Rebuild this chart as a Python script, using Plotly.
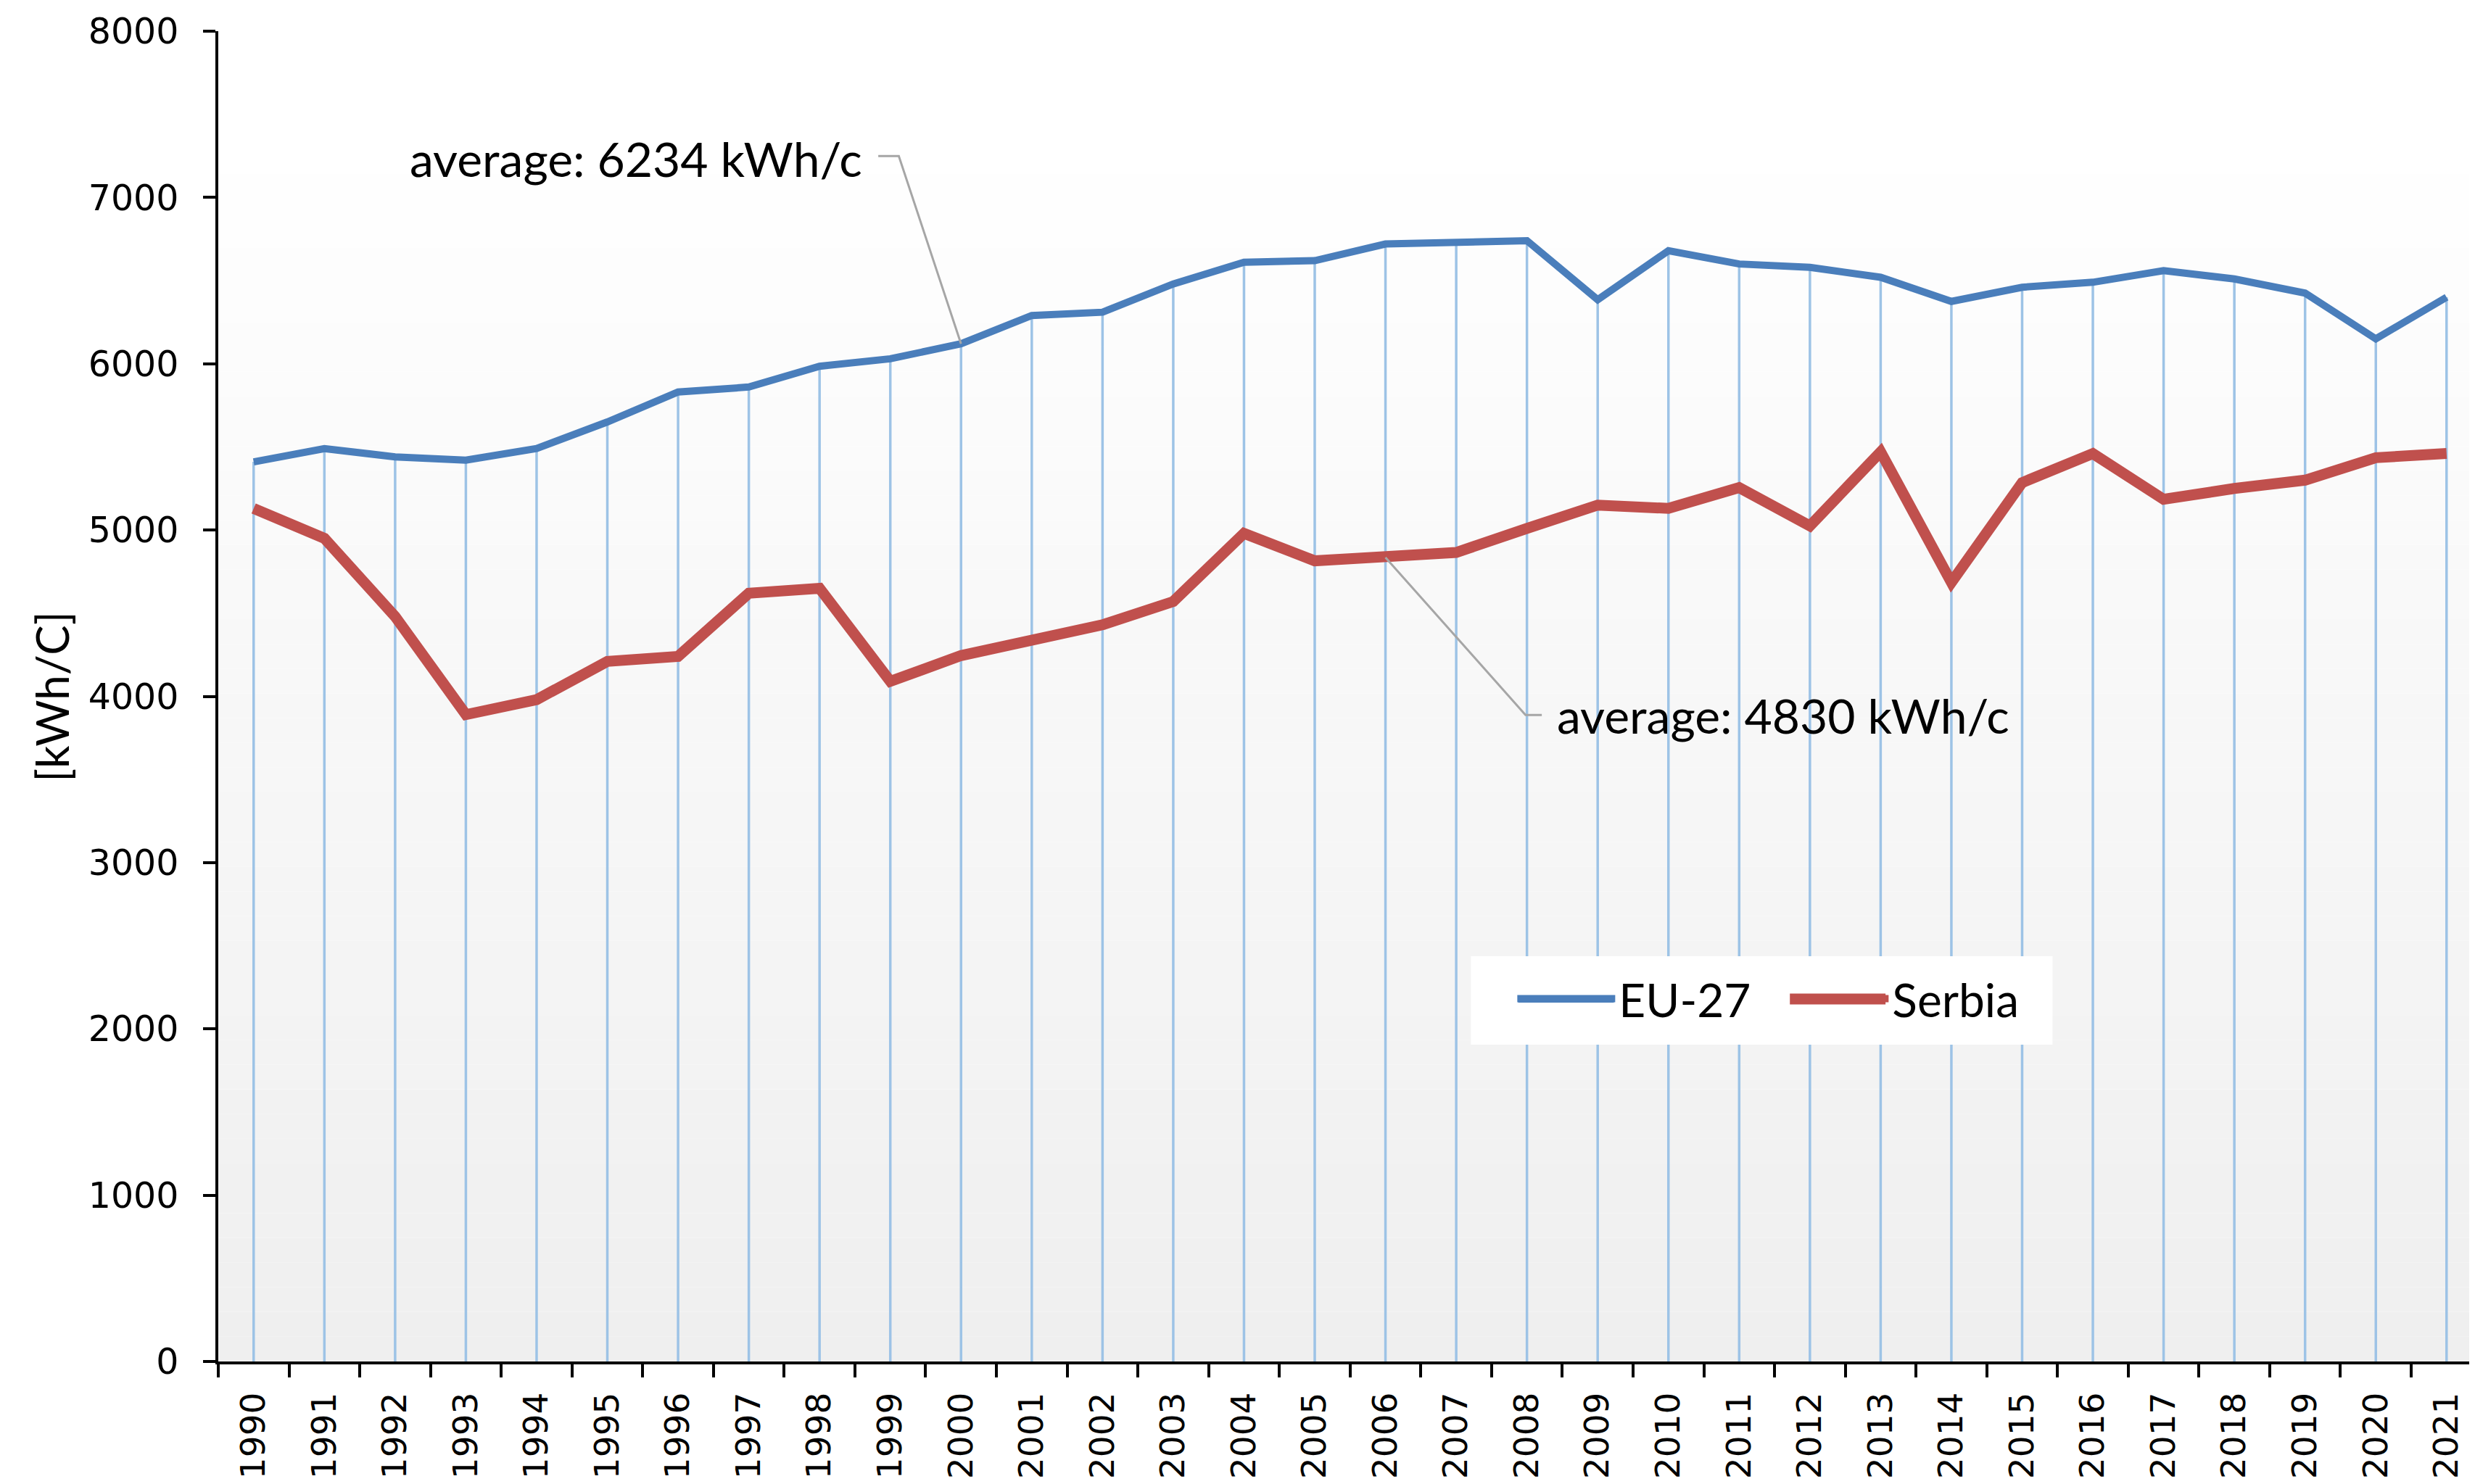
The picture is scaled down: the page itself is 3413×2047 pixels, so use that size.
import plotly.graph_objects as go

# ---------------- data ----------------
years = list(range(1990, 2022))
year_labels = [str(y) for y in years]

eu27 = [5410, 5490, 5440, 5420, 5490, 5650, 5830, 5860, 5985, 6030,
        6120, 6290, 6310, 6480, 6610, 6620, 6720, 6730, 6740, 6385,
        6680, 6600, 6580, 6520, 6375, 6460, 6490, 6560, 6510, 6425,
        6150, 6400]

serbia = [5130, 4950, 4480, 3890, 3980, 4210, 4240, 4620, 4650, 4090,
          4245, 4340, 4430, 4570, 4980, 4815, 4835, 4865, 5010, 5150,
          5130, 5255, 5025, 5470, 4685, 5285, 5460, 5185, 5250, 5300,
          5435, 5460]

y_ticks = [0, 1000, 2000, 3000, 4000, 5000, 6000, 7000, 8000]

y_title = "[kWh/C]"
avg_eu_text = "average: 6234 kWh/c"
avg_rs_text = "average: 4830 kWh/c"
eu_anchor_year = 2000
rs_anchor_year = 2006

# ---------------- styles ----------------
BLUE = "#4A7EBB"
RED = "#C0504D"
DROP = "#9DC3E6"
TEXT_FONT = "Lato"
EU_W, RS_W = 10, 15

fig = go.Figure()

# drop lines from EU-27 points to the axis
dx, dy = [], []
for yr, v in zip(years, eu27):
    dx += [yr, yr, None]
    dy += [0, v, None]
fig.add_trace(go.Scatter(x=dx, y=dy, mode="lines", line=dict(color=DROP, width=3.5),
                         hoverinfo="skip", showlegend=False))

fig.add_trace(go.Scatter(x=years, y=eu27, mode="lines", name="EU-27",
                         line=dict(color=BLUE, width=EU_W)))
fig.add_trace(go.Scatter(x=years, y=serbia, mode="lines", name="Serbia",
                         line=dict(color=RED, width=RS_W)))

# leader lines for the averages (label end -> bend -> data point)
i_eu = years.index(eu_anchor_year)
i_rs = years.index(rs_anchor_year)
fig.add_trace(go.Scatter(x=[1998.83, 1999.12, years[i_eu]],
                         y=[7249, 7249, eu27[i_eu]],
                         mode="lines", line=dict(color="#A6A6A6", width=3),
                         hoverinfo="skip", showlegend=False))
fig.add_trace(go.Scatter(x=[2008.21, 2007.98, years[i_rs]],
                         y=[3888, 3888, serbia[i_rs]],
                         mode="lines", line=dict(color="#A6A6A6", width=3),
                         hoverinfo="skip", showlegend=False))

fig.add_annotation(x=1998.62, y=7236, xref="x", yref="y", text=avg_eu_text,
                   showarrow=False, xanchor="right", yanchor="middle",
                   font=dict(family=TEXT_FONT, size=66, color="#000000"))
fig.add_annotation(x=2008.40, y=3888, xref="x", yref="y", text=avg_rs_text,
                   showarrow=False, xanchor="left", yanchor="middle",
                   font=dict(family=TEXT_FONT, size=66, color="#000000"))

# y-axis title
fig.add_annotation(x=-0.0743, y=0.5, xref="paper", yref="paper", text=y_title,
                   textangle=-90, showarrow=False, xanchor="center", yanchor="middle",
                   font=dict(family=TEXT_FONT, size=62, color="#000000"))

# vertical gradient background of the plot area
n_bands = 50
top_frac = 0.93
for k in range(n_bands):
    y0 = top_frac * k / n_bands
    y1 = top_frac * (k + 1) / n_bands
    t = 1 - (k + 0.5) / n_bands
    g = round(255 - (255 - 239) * t)
    fig.add_shape(type="rect", xref="paper", yref="paper", x0=0, x1=1, y0=y0, y1=y1,
                  fillcolor=f"rgb({g},{g},{g})", line=dict(width=0), layer="below")

# white legend box (covers the drop lines) and thick legend keys
fig.add_shape(type="rect", xref="paper", yref="paper", x0=0.5565, x1=0.8149,
              y0=0.2381, y1=0.3046, fillcolor="white", line=dict(width=0), layer="above")
fig.add_shape(type="line", xref="paper", yref="paper", x0=0.5775, x1=0.6200,
              y0=0.2725, y1=0.2725, line=dict(color=BLUE, width=EU_W), layer="above")
fig.add_shape(type="line", xref="paper", yref="paper", x0=0.6982, x1=0.7407,
              y0=0.2725, y1=0.2725, line=dict(color=RED, width=RS_W), layer="above")

minor_vals = [y - 0.5 for y in years] + [years[-1] + 0.5]

fig.update_layout(
    width=3397, height=2031,
    margin=dict(l=293, r=0, t=35, b=161),
    paper_bgcolor="white", plot_bgcolor="white",
    showlegend=True,
    legend=dict(orientation="h", x=0.5755, y=0.2725, xanchor="left", yanchor="middle",
                bgcolor="rgba(0,0,0,0)", borderwidth=0,
                font=dict(family=TEXT_FONT, size=64, color="#000000"),
                itemwidth=135, tracegroupgap=0,
                entrywidth=227, entrywidthmode="pixels"),
    xaxis=dict(
        range=[1989.5, 2021.32],
        tickmode="array", tickvals=years, ticktext=year_labels,
        tickangle=-90, ticks="",
        tickfont=dict(family="DejaVu Sans", size=47, color="#000000"),
        ticklabelstandoff=20,
        showgrid=False, zeroline=False,
        showline=True, linecolor="black", linewidth=3.5,
        minor=dict(tickmode="array", tickvals=minor_vals, ticks="outside",
                   ticklen=18, tickwidth=3.5, tickcolor="black", showgrid=False),
    ),
    yaxis=dict(
        range=[0, 8000], tickmode="array", tickvals=y_ticks,
        ticks="outside", ticklen=17, tickwidth=3.5, tickcolor="black",
        tickfont=dict(family="DejaVu Sans", size=49, color="#000000"),
        ticklabelstandoff=24,
        showgrid=False, zeroline=False,
        showline=True, linecolor="black", linewidth=3.5,
    ),
)

fig.write_html("out.html")
